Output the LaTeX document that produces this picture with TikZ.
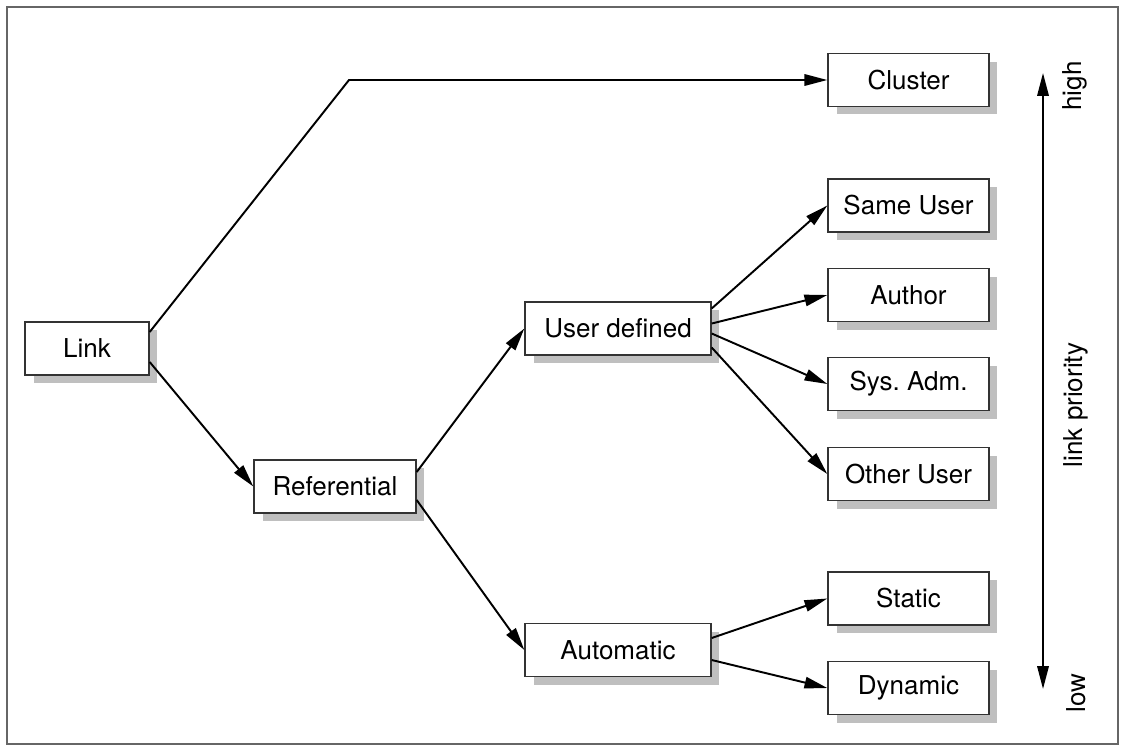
\documentclass[tikz,border=0pt]{standalone}
\usepackage{fontspec}
\setmainfont{TeX Gyre Heros}
\usetikzlibrary{positioning,calc,shadows,arrows.meta}

\begin{document}
\begin{tikzpicture}[x=0.02cm,y=-0.02cm,
    box/.style={rectangle,draw=black!80,line width=0.8pt,fill=white,inner sep=0pt,
        minimum height=1.06cm,minimum width=3.22cm,font=\fontsize{14.8}{18}\selectfont,
        drop shadow={shadow xshift=0.17cm,shadow yshift=-0.16cm,fill=black!25,opacity=1}},
    arr/.style={line width=1.1pt,-{Triangle[length=13pt,width=6.5pt]}},
    prio/.style={rotate=90,font=\fontsize{14.8}{18}\selectfont}]
        \useasboundingbox (0,0) rectangle (1125,751);
        \draw[black!60,line width=0.9pt] (7,7) rectangle (1118,744);

        \node[box,minimum width=2.48cm] (link) at (87,348.5) {Link};
        \node[box,minimum width=3.24cm] (ref) at (335,486.5) {Referential};
        \node[box,minimum width=3.72cm] (ud) at (618,328.5) {User defined};
        \node[box,minimum width=3.72cm] (auto) at (618,650) {Automatic};
        \node[box] (cluster) at (908.5,80) {Cluster};
        \node[box] (same) at (908.5,205.5) {Same User};
        \node[box] (author) at (908.5,295) {Author};
        \node[box] (sysadm) at (908.5,384) {Sys.\ Adm.};
        \node[box] (other) at (908.5,474) {Other User};
        \node[box] (static) at (908.5,598.5) {Static};
        \node[box] (dynamic) at (908.5,688) {Dynamic};

        \coordinate (bend) at (349,80);
        \draw[arr] ($(link.east)+(0,-16.5)$) -- (bend) -- (cluster.west);
        \draw[arr] ($(link.east)+(0,13.5)$) -- (ref.west);
        \draw[arr] ($(ref.east)+(0,-14.5)$) -- (ud.west);
        \draw[arr] ($(ref.east)+(0,13.5)$) -- (auto.west);
        \foreach \x/\dy in {same/-20,author/-5,sysadm/5,other/19}{
            \draw[arr] ($(ud.east)+(0,\dy)$) -- (\x.west);
        }
        \foreach \x/\dy in {static/-12,dynamic/10}{
            \draw[arr] ($(auto.east)+(0,\dy)$) -- (\x.west);
        }

        \coordinate (ptop) at (1043,73);
        \coordinate (pbot) at (1043,689);
        \draw[arr,{Triangle[length=13pt,width=6.5pt]}-{Triangle[length=13pt,width=6.5pt]}] (pbot) -- (ptop);
        \node[prio] (high) at (1075,86) {high};
        \node[prio] (lprio) at (1076,405) {link priority};
        \node[prio] (low) at (1076,693) {low};
    \end{tikzpicture}
\end{document}
